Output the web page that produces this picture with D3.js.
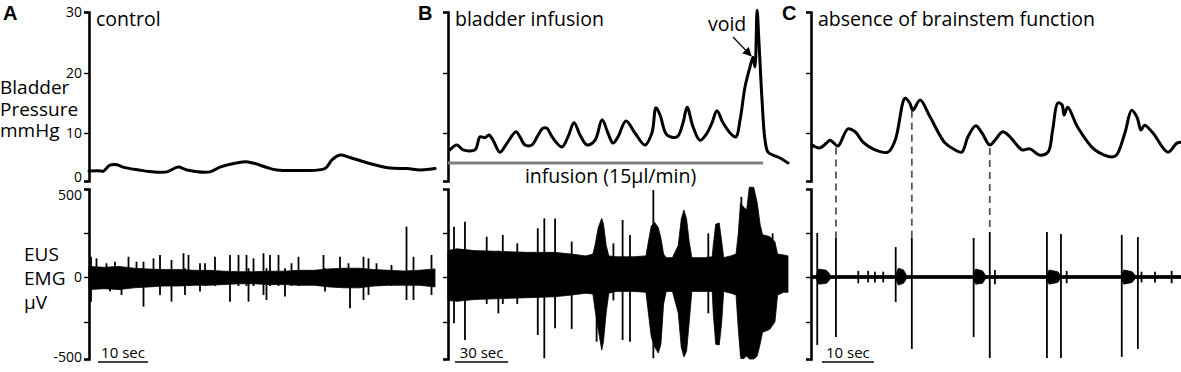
<!DOCTYPE html>
<html><head><meta charset="utf-8">
<script src="https://cdn.jsdelivr.net/npm/d3@7"></script>
<style>
body{margin:0;background:#fff;}
svg{display:block;}
text{font-family:"Open Sans","Noto Sans",sans-serif;fill:#000;}
</style></head><body>
<svg id="chart" width="1181" height="372"></svg>
<script>
// ---------- data ----------
const pressureTicks = [0, 10, 20, 30];
const emgTicks = [-500, -250, 0, 250, 500];
const emgTickLabels = ["-500", "", "0", "", "500"];
const panelLetters = ["A", "B", "C"];
const conditions = ["control", "bladder infusion", "absence of brainstem function"];
const durations = [69.2, 192.4, 71.2];          // seconds shown in each panel
const scaleBarSec = [10, 30, 10];
const scaleBarStart = [1.8, 4.0, 2.1];

// bladder pressure traces [time s, mmHg]
const pressureA = [[0,2.1],[2.4,2.1],[2.8,2.0],[4.2,3.3],[5.6,3.4],[6.8,2.9],[10,2.3],[12,2.0],[15.6,1.9],[17.8,2.9],[19.6,2.3],[24.2,1.9],[26.2,2.9],[29.8,3.8],[31.4,4.0],[33,3.7],[35.6,2.8],[37.6,2.3],[42.2,2.2],[47.2,2.6],[48.6,4.4],[50.2,5.4],[52.2,4.9],[55.6,3.8],[60.2,2.7],[63.6,2.6],[66.2,2.3],[69.2,2.6]];
const pressureB = [[1.1,6.5],[5.1,7.5],[8.5,6.5],[15.3,6.5],[18.1,9.2],[20.9,9.0],[23.2,9.6],[25.5,8.5],[29.4,6.0],[33.4,7.9],[38.5,10.2],[40.7,9.2],[43.6,7.5],[47.5,7.5],[50.4,9.2],[53.8,10.8],[56.0,10.8],[58.9,9.2],[64.5,7.1],[67.9,9.2],[71.3,11.7],[74.7,9.6],[78.7,7.5],[83.2,8.5],[87.2,12.2],[90.5,10.0],[93.4,7.9],[96.2,9.2],[100.7,12.0],[105.8,10.0],[111.5,7.5],[115.4,10.0],[117.7,14.2],[120.0,13.0],[123.9,9.6],[129.6,9.2],[133.0,11.7],[135.3,14.3],[138.7,11.0],[142.6,8.5],[146.6,10.0],[149.4,11.7],[152.2,13.7],[155.6,11.7],[160.7,9.6],[163.0,9.2],[165.3,12.2],[168.1,17.7],[170.9,21.0],[172.6,22.6],[173.7,21.0],[174.9,30.3],[176.0,24.9],[177.7,15.5],[179.4,8.5],[181.1,6.0],[183.9,5.4],[187.9,4.8],[192.4,3.75]];
const pressureC = [[0.2,7.5],[1.7,6.9],[3.7,8.5],[4.2,8.1],[5.2,7.3],[7.1,10.7],[8.5,10.2],[10.0,8.1],[12.3,6.5],[14.8,6.0],[16.2,8.5],[18.1,15.8],[19.0,15.0],[19.6,13.8],[21.0,15.5],[22.9,12.7],[25.8,7.9],[27.7,6.5],[29.0,6.0],[30.2,9.2],[31.7,11.2],[32.9,10.0],[34.4,7.5],[35.4,8.5],[36.9,10.2],[38.3,9.2],[40.6,6.5],[42.1,6.7],[44.0,5.4],[45.6,6.0],[46.5,10.5],[47.5,15.0],[48.3,14.7],[48.7,13.0],[49.4,14.3],[51.3,11.0],[54.6,6.5],[57.9,5.0],[58.8,5.4],[60.4,10.0],[61.7,13.8],[62.7,12.7],[63.5,10.5],[64.2,11.3],[65.8,10.0],[68.7,6.0],[70.4,7.9],[71.3,8.1]];

// infusion period in B [start s, end s, drawn level mmHg]
const infusion = [0, 178.3, 3.75];

// EUS EMG envelope of the continuous activity [time s, upper µV, lower µV]
const emgEnvA = [[0,60,-70],[3,55,-65],[6,60,-70],[9,50,-60],[12,45,-55],[15,42,-50],[18,42,-50],[21,38,-46],[24,38,-46],[27,33,-42],[30,30,-38],[33,30,-38],[36,33,-42],[39,33,-42],[42,38,-46],[45,38,-46],[48,46,-55],[51,50,-60],[54,50,-60],[57,42,-50],[60,38,-46],[63,34,-46],[66,38,-46],[69.2,46,-55]];
const emgEnvB = [[0,150,-130],[5,160,-135],[15,150,-125],[30,145,-120],[45,140,-115],[60,140,-110],[70,130,-100],[78,120,-90],[82,130,-95],[83.2,180,-180],[85,280,-300],[87,333,-440],[88,300,-380],[89.5,180,-200],[91,120,-90],[95,115,-80],[105,115,-80],[112,120,-85],[113.4,200,-200],[115,290,-350],[117,310,-420],[119,280,-460],[120.5,220,-400],[122,130,-150],[123.5,110,-80],[127,110,-80],[130.3,180,-200],[132,330,-420],[133.5,381,-486],[135,330,-450],[136.5,200,-250],[138,110,-80],[145,110,-80],[149.5,115,-80],[150.1,180,-200],[151.5,300,-400],[153.5,307,-405],[154.9,200,-250],[156,110,-80],[160,120,-90],[163,130,-100],[164.3,250,-300],[165.5,420,-480],[167,400,-500],[169,380,-480],[170.5,510,-500],[173,510,-500],[175,420,-480],[176.6,300,-400],[178,240,-320],[182,230,-300],[185,200,-250],[186.5,130,-100],[190,125,-85],[192.4,120,-85]];
const emgEnvC = [[0,8,-8],[1.0,8,-8],[1.5,45,-40],[3.0,38,-35],[3.8,8,-8],[16.3,8,-8],[16.8,50,-45],[17.8,40,-35],[18.4,8,-8],[31.2,8,-8],[31.7,45,-40],[33,35,-35],[33.6,8,-8],[45.3,8,-8],[45.8,40,-40],[47.5,30,-30],[48,8,-8],[59.7,8,-8],[60.2,40,-40],[61.8,30,-30],[62.4,8,-8],[71.2,8,-8]];

// EMG spikes [time s, top µV, bottom µV]
const emgSpikesA = [[0.4,115,-137],[1.5,106,-50],[3.5,78,-50],[4.2,50,-81],[5.2,87,-50],[6.5,50,-100],[7.9,115,-50],[9.5,87,-50],[10.9,87,-165],[12.9,106,-50],[14.2,125,-100],[16.5,97,-137],[18.9,135,-50],[19.2,50,-100],[19.9,125,-50],[22.2,78,-81],[23.2,78,-50],[25.2,115,-50],[28.2,125,-137],[29.9,125,-50],[31.5,125,-50],[31.9,50,-137],[32.9,106,-50],[34.9,135,-100],[35.5,50,-128],[36.2,125,-50],[37.9,125,-50],[39.2,50,-109],[40.5,78,-50],[41.9,115,-50],[46.9,125,-50],[47.2,50,-81],[50.2,115,-50],[51.9,78,-50],[52.2,50,-174],[54.9,115,-128],[55.9,106,-100],[57.5,78,-50],[60.5,68,-50],[63.5,286,-128],[64.9,115,-128],[68.5,125,-100]];
const emgSpikesB = [[3.4,286,-259],[9.6,314,-372],[21.9,229,-150],[28.5,150,-202],[31.0,239,-150],[39.2,191,-150],[50.8,277,-338],[54.5,333,-495],[60.6,333,-293],[70.0,201,-297],[84.1,150,-383],[93.6,191,-130],[98.8,324,-372],[103.0,239,-383],[116.2,494,-495],[147.3,248,-202],[166.0,455,-500],[180.0,229,-293],[183.7,248,-150]];
const emgSpikesC = [[1.2,250,-405],[4.8,222,-351],[9.1,35,-35],[11.0,35,-30],[12.3,30,-30],[13.9,30,-30],[16.3,170,-139],[19.4,222,-432],[31.3,222,-351],[34.4,256,-493],[35.4,40,-40],[45.4,256,-493],[48.1,244,-493],[49.2,35,-35],[59.8,239,-486],[62.9,227,-432],[63.6,30,-30],[66.2,30,-30],[69.4,35,-35]];

// panel C: dashed links between pressure and EMG spikes (times, s)
const linkTimesC = [4.8, 19.4, 34.4];

// left axis titles
const titleP = ["Bladder", "Pressure", "mmHg"];
const titleE = ["EUS", "EMG", "µV"];

// ---------- drawing ----------
const svg = d3.select("#chart");
const yP = d3.scaleLinear().domain(pressureTicks).range([181, 133, 73, 12]);
const yE = d3.scaleLinear().domain(emgTicks).range([359, 322, 277, 233, 189]);

const layout = [
  {x0: 89,  x1: 435,  letterX: 3},
  {x0: 448, x1: 788,  letterX: 418},
  {x0: 811, x1: 1181, letterX: 782}
];
const pressures = [pressureA, pressureB, pressureC];
const envs = [emgEnvA, emgEnvB, emgEnvC];
const spikes = [emgSpikesA, emgSpikesB, emgSpikesC];

const scales = [];
layout.forEach((L, i) => {
  const x = d3.scaleLinear().domain([0, durations[i]]).range([L.x0, L.x1]);
  scales.push(x);
  const g = svg.append("g");

  const axP = d3.axisLeft(yP).tickValues(pressureTicks).tickSize(5).tickSizeOuter(5).tickPadding(2)
    .tickFormat(i === 0 ? d3.format("d") : () => "");
  const gp = g.append("g").attr("transform", `translate(${L.x0},0)`).call(axP);
  const axE = d3.axisLeft(yE).tickValues(emgTicks).tickSize(5).tickSizeOuter(5).tickPadding(2)
    .tickFormat((d, k) => i === 0 ? emgTickLabels[k] : "");
  const ge = g.append("g").attr("transform", `translate(${L.x0},0)`).call(axE);
  [gp, ge].forEach(a => {
    a.select(".domain").attr("stroke", "#000").attr("stroke-width", 2.6);
    a.selectAll(".tick line").attr("stroke", "#000").attr("stroke-width", 1.4);
    a.selectAll(".tick text").attr("font-family", "'Open Sans',sans-serif").attr("font-size", 14).attr("fill", "#000");
  });
  gp.selectAll(".tick text").filter(d => d === 0).attr("dy", "0.0em");
  ge.selectAll(".tick text").filter(d => d === 500).attr("dy", "0.75em");
  ge.selectAll(".tick text").filter(d => d === -500).attr("dy", "0.2em");

  const area = d3.area().x(d => x(d[0])).y0(d => yE(d[2])).y1(d => yE(d[1]));
  g.append("path").datum(envs[i]).attr("d", area).attr("fill", "#000").attr("stroke", "#000").attr("stroke-width", 0.8);
  g.selectAll(null).data(spikes[i]).enter().append("line")
    .attr("x1", d => x(d[0])).attr("x2", d => x(d[0]))
    .attr("y1", d => yE(d[1])).attr("y2", d => yE(d[2]))
    .attr("stroke", "#000").attr("stroke-width", 1.8);

  const line = d3.line().x(d => x(d[0])).y(d => yP(d[1])).curve(d3.curveCatmullRom.alpha(0.5));
  g.append("path").datum(pressures[i]).attr("d", line)
    .attr("fill", "none").attr("stroke", "#000").attr("stroke-width", 3)
    .attr("stroke-linejoin", "round").attr("stroke-linecap", "round");

  g.append("text").attr("x", L.x0 + 7).attr("y", 26).attr("font-size", 19.5).text(conditions[i]);
  g.append("text").attr("x", L.letterX).attr("y", 20).attr("font-size", 20).attr("font-weight", "bold")
    .style("font-family", "'Liberation Sans',Arial,sans-serif")
    .text(panelLetters[i]);
  const b0 = x(scaleBarStart[i]), b1 = x(scaleBarStart[i] + scaleBarSec[i]);
  g.append("line").attr("x1", b0).attr("x2", b1).attr("y1", 362).attr("y2", 362).attr("stroke", "#000").attr("stroke-width", 1.6);
  g.append("text").attr("x", (b0 + b1) / 2).attr("y", 358).attr("text-anchor", "middle").attr("font-size", 15)
    .text(scaleBarSec[i] + " sec");
});

// left axis titles as wrapped multi-line texts
const tP = svg.append("text").attr("x", 0).attr("y", 94).attr("font-size", 19);
tP.selectAll("tspan").data(titleP).enter().append("tspan")
  .attr("x", 0).attr("dy", (d, k) => k === 0 ? 0 : 21.5).text(d => d);
const tE = svg.append("text").attr("x", 24).attr("y", 261).attr("font-size", 19);
tE.selectAll("tspan").data(titleE).enter().append("tspan")
  .attr("x", 24).attr("dy", (d, k) => k === 0 ? 0 : 24).text(d => d);

// infusion bar (panel B)
const xB = scales[1];
svg.append("line").attr("x1", xB(infusion[0])).attr("x2", xB(infusion[1]))
  .attr("y1", yP(infusion[2])).attr("y2", yP(infusion[2]))
  .attr("stroke", "#808080").attr("stroke-width", 3);
svg.append("text").attr("x", (xB(infusion[0]) + xB(infusion[1])) / 2 + 5).attr("y", 183)
  .attr("text-anchor", "middle").attr("font-size", 19.5).text("infusion (15µl/min)");

// void annotation
svg.append("defs").append("marker").attr("id", "ah").attr("viewBox", "0 0 10 10")
  .attr("refX", 9).attr("refY", 5).attr("markerWidth", 7).attr("markerHeight", 7).attr("orient", "auto")
  .append("path").attr("d", "M0,0L10,5L0,10z").attr("fill", "#000");
svg.append("line").attr("x1", xB(161.3)).attr("y1", yP(25.9)).attr("x2", xB(171.5)).attr("y2", yP(22.8))
  .attr("stroke", "#000").attr("stroke-width", 1.3).attr("marker-end", "url(#ah)");
svg.append("text").attr("x", xB(147.1)).attr("y", 31).attr("font-size", 19.5).text("void");

// dashed links in C
const xC = scales[2];
const bis = d3.bisector(d => d[0]).left;
function pAt(t) {
  const j = Math.max(1, Math.min(pressureC.length - 1, bis(pressureC, t)));
  const a = pressureC[j - 1], b = pressureC[j];
  return a[1] + (b[1] - a[1]) * (t - a[0]) / (b[0] - a[0]);
}
linkTimesC.forEach(t => {
  const sp = emgSpikesC.reduce((m, s) => Math.abs(s[0] - t) < Math.abs(m[0] - t) ? s : m);
  svg.append("line").attr("x1", xC(t)).attr("x2", xC(t))
    .attr("y1", yP(pAt(t)) + 3).attr("y2", yE(sp[1]))
    .attr("stroke", "#555").attr("stroke-width", 1.8).attr("stroke-dasharray", "7,5");
});
</script></body></html>
